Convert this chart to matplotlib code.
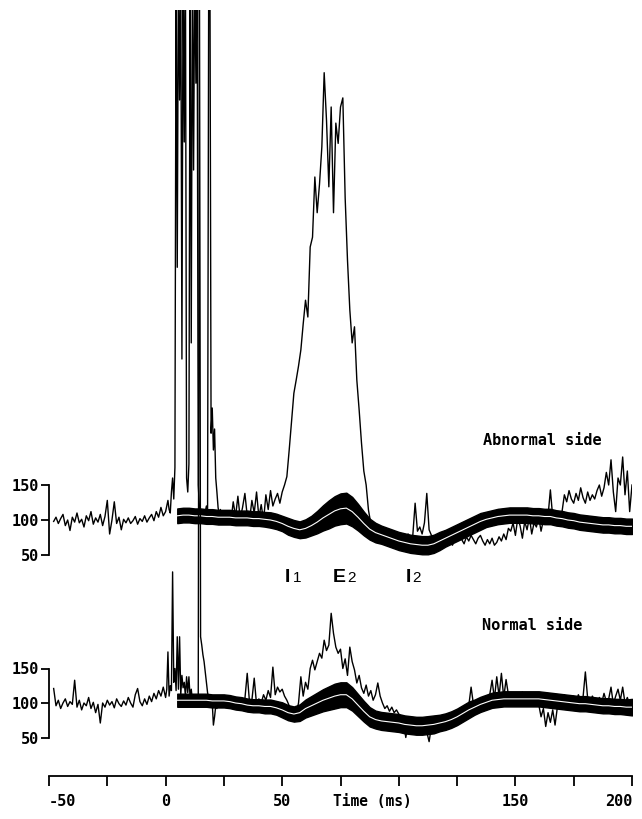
import numpy as np
import matplotlib
matplotlib.use("Agg")
import matplotlib.pyplot as plt

# ---------------- data ----------------
# single sweep, abnormal side: 1 ms samples -48..-1, 0.5 ms samples 0..25.5, 1 ms samples 26..200
abn_pre = [98,104,95,102,108,92,100,85,104,97, 110,96,101,90,106,99,112,94,103,97,
           108,92,105,128,80,100,126,95,104,86, 101,96,103,95,99,105,94,102,98,106,
           97,103,108,99,112,104,118,106]
abn_stim = [112,120,128,115,110,140,160,130,175,900, 461,900,700,900,330,900,640,900,160,140,
            180,900,353,900,600,900,724,900,150,118, 104,98,110,104,112,120,108,900,900,224,
            260,200,230,160,140,118,108,115,104,110, 102,108]
abn_mid = [104,112,98,126,105,134,102,118,138,106, 100,128,110,140,104,122,99,136,115,142,
           120,130,138,124,140]
abn_e1 = [150,162,200,240,281,300,320,343,380,414, 390,490,504,590,539,580,633,739,671,576,
          690,539,667,638,690,703,560,471,400,353, 376,300,257,210,170,150,114]
abn_late = [95,88,84,86,80,84,78,82,76,80, 74,78,72,76,70,74,80,72,78,124,
            84,90,80,96,138,86,78,72,66,74, 68,80,70,66,76,64,72,70,78,72,
            66,76,70,78,72,66,74,78,70,64, 72,66,74,64,68,76,70,80,72,88,
            84,96,78,102,92,74,98,86,104,80, 96,90,104,84,100,94,106,143,104,100,
            108,96,112,136,126,142,130,124,138,128, 146,132,124,140,128,136,130,142,150,134,
            146,168,150,186,140,112,160,150,190,136, 170,112,150]

# single sweep, normal side (same sampling)
norm_pre = [121,96,104,92,100,106,95,102,98,133, 94,104,90,100,96,108,92,101,86,98,
            71,100,94,104,97,102,93,106,99,95, 103,97,108,100,94,112,121,102,96,106,
            98,110,102,114,106,118,110,123]
norm_stim = [108,120,174,110,125,118,290,130,150,118, 196,120,196,112,140,122,130,110,138,115,
             138,108,120,104,112,106,110,104,112,1200, 196,184,170,160,145,130,115,106,98,94,
             100,68,80,96,92,100,104,98,104,100, 98,102]
norm_mid = [102,96,104,98,100,94,102,96,106,143, 100,104,136,98,106,100,112,104,118,108,
            152,112,123,116,120]
norm_e = [110,104,96,86,80,84,100,138,110,130, 120,150,162,148,160,172,165,191,176,184,
          230,201,181,172,178,150,164,140,181,160, 148,129,140,122,114,126,110,118,104,112,
          129,110,100,92,96,88,94,86,90,84]
norm_late = [80,72,50,70,62,74,60,68,56,70, 64,58,44,66,72,64,70,74,66,78,
             70,80,76,84,78,86,82,90,86,96, 123,98,102,96,104,100,108,102,112,133,
             106,138,110,143,108,134,112,104,110,102, 112,104,116,100,110,106,114,96,108,98,
             80,92,66,86,72,90,68,94,100,106, 112,102,108,104,110,100,112,104,108,145,
             106,100,110,104,96,108,100,114,102,106, 123,98,110,120,104,123,100,108,98,104]

# averaged response (mean and SD), 2.5 ms samples from 5 ms
abn_mean = [106,107,107,106,106,105,105,104,104,104, 103,103,103,102,102,101,100,98,95,91,
            88,86,88,92,97,103,108,113,116,117, 112,104,95,87,82,79,76,73,70,68,
            66,65,64,64,66,70,74,78,82,86, 90,94,98,101,103,105,106,107,107,107,
            107,106,106,105,105,103,102,100,99,97, 96,95,94,93,93,92,92,91,91]
abn_sd = [10.5,10.5,10.5,10.5,10.5,10.5,10.5,10.5,10.5,10.5,
          10.5,10.5,10.5,10.5,10.5,10.5,11,11,11,12,
          12,12,13,14,16,18,20,21,22,22, 21,19,17,15,14,13,13,13,13,13,
          13,13,13,13,13,13,12,12,12,12, 12,12,12,11,11,11,11,11,11,11,
          11,11,11,11,11,11,11,11,11,11, 11,11,11,11,11,11,11,11,11]
norm_mean = [104,104,104,104,104,104,103,103,103,102, 100,99,97,96,96,95,95,93,90,86,
             84,86,92,96,100,104,107,110,112,112, 106,97,88,80,76,74,73,72,71,69,
             68,67,67,68,69,71,73,76,80,85, 90,94,98,101,104,105,106,106,106,106,
             106,106,106,105,104,103,102,101,100,99, 99,98,97,96,96,95,95,94,94]
norm_sd = [9.5,9.5,9.5,9.5,9.5,9.5,9.5,9.5,9.5,9.5,
           9.5,9.5,9.5,9.5,9.5,10,10,10,11,11,
           11,12,13,14,15,16,17,18,18,18, 17,16,15,14,13,13,13,13,13,13,
           13,13,13,13,13,12,12,12,12,12, 12,11,11,11,11,11,11,11,11,11,
           11,11,11,11,11,11,11,11,11,11, 11,11,11,11,11,11,11,11,12]

x_ticks = [-50, -25, 0, 25, 50, 75, 100, 125, 150, 175, 200]
x_labels = ['-50', '', '0', '', '50', '', '', '', '150', '', '200']
y_ticks = [50, 100, 150]
y_labels = ['50', '100', '150']

# ---------------- assemble ----------------
def sweep_time(pre, stim, rest):
    return np.concatenate([-len(pre) + np.arange(len(pre)),
                           0.5 * np.arange(len(stim)),
                           26 + np.arange(len(rest))])

abn_rest = abn_mid + abn_e1 + abn_late
norm_rest = norm_mid + norm_e + norm_late
abn_single = np.array(abn_pre + abn_stim + abn_rest, float)
norm_single = np.array(norm_pre + norm_stim + norm_rest, float)
t_abn = sweep_time(abn_pre, abn_stim, abn_rest)
t_norm = sweep_time(norm_pre, norm_stim, norm_rest)
abn_mean = np.array(abn_mean, float); abn_sd = np.array(abn_sd, float)
norm_mean = np.array(norm_mean, float); norm_sd = np.array(norm_sd, float)
t_band = 5 + 2.5 * np.arange(len(abn_mean))

# ---------------- figure ----------------
W, H = 642, 819
fig = plt.figure(figsize=(W / 100, H / 100), dpi=100)
fig.patch.set_facecolor('white')

def frac(l, t, r, b):
    return [l / W, 1 - b / H, (r - l) / W, (b - t) / H]

X0, X1 = 49, 632
MONO = {'family': 'DejaVu Sans Mono', 'weight': 'bold'}

ax_t = fig.add_axes(frac(X0, 10, X1, 600))
ax_t.set_xlim(-50, 200)
ax_t.set_ylim(100 - (600 - 520) / 0.70, 100 + (520 - 10) / 0.70)

ax_b = fig.add_axes(frac(X0, 10, X1, 776))
ax_b.set_xlim(-50, 200)
ax_b.set_ylim(100 - (776 - 703) / 0.69, 100 + (703 - 10) / 0.69)

for ax, t_s, y_s, m, s in [(ax_t, t_abn, abn_single, abn_mean, abn_sd),
                           (ax_b, t_norm, norm_single, norm_mean, norm_sd)]:
    ax.patch.set_visible(False)
    ax.plot(t_s, y_s, color='black', lw=1.0, zorder=2)
    ax.fill_between(t_band, m - s, m + s, color='black', lw=1.0, zorder=3)
    ax.plot(t_band, m, color='white', lw=0.8, zorder=4)
    for sp in ['top', 'right']:
        ax.spines[sp].set_visible(False)
    ax.spines['left'].set_bounds(50, 150)
    ax.spines['left'].set_linewidth(1.3)
    ax.set_yticks(y_ticks)
    ax.set_yticklabels(y_labels, fontdict=MONO)
    ax.tick_params(axis='y', direction='out', length=6, width=1.3, pad=1, labelsize=11)

ax_t.spines['bottom'].set_visible(False)
ax_t.tick_params(axis='x', bottom=False, labelbottom=False)

ax_b.spines['bottom'].set_linewidth(1.3)
ax_b.set_xticks(x_ticks)
ax_b.set_xticklabels(x_labels, fontdict=MONO)
ax_b.tick_params(axis='x', direction='out', length=7, width=1.3, pad=6, labelsize=11)
xt = ax_b.get_xticklabels()
xt[0].set_horizontalalignment('left')
xt[-1].set_horizontalalignment('right')
ax_b.annotate('Time (ms)', xy=(88.8, 0), xycoords=('data', 'axes fraction'),
              xytext=(0, -13), textcoords='offset points', ha='center', va='top',
              fontsize=10.5, **MONO)

ax_t.text(135.9, 214, 'Abnormal side', ha='left', va='center', fontsize=11, **MONO)
ax_b.text(135.8, 213, 'Normal side', ha='left', va='center', fontsize=11, **MONO)

SANS = 'Liberation Sans'
for letter, digit, xr, xl in [('I', '1', 53.6, 54.5), ('E', '2', 77.2, 78.0), ('I', '2', 105.1, 105.9)]:
    ax_t.text(xr, 11.4, letter, ha='right', va='baseline', fontsize=14,
              family=SANS, weight='bold')
    ax_t.text(xl, 11.4, digit, ha='left', va='baseline', fontsize=11, family=SANS)

fig.savefig('out.png', dpi=100, facecolor='white')
